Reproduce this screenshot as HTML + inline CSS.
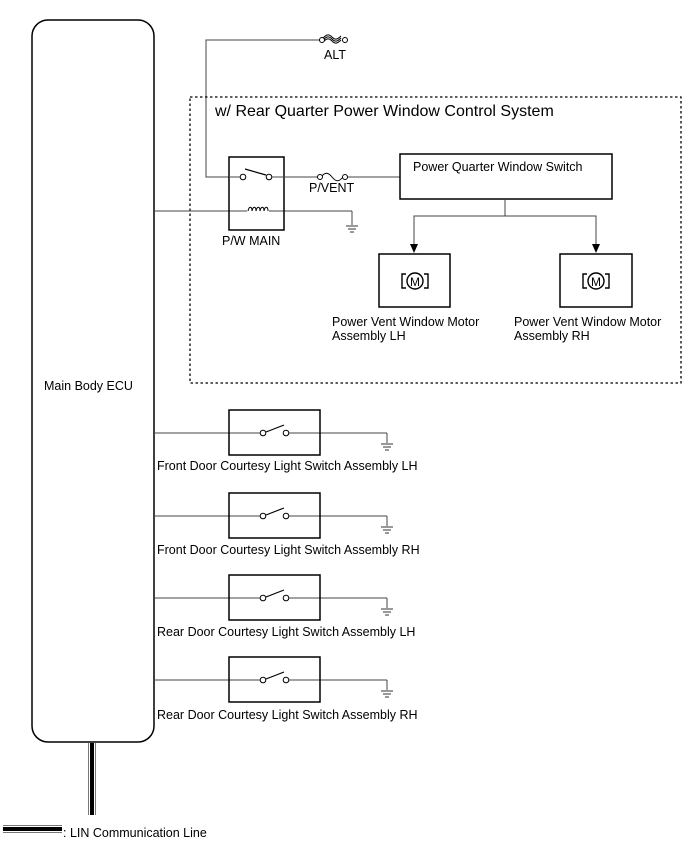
<!DOCTYPE html>
<html><head><meta charset="utf-8"><style>
html,body{margin:0;padding:0;background:#fff;}
svg{display:block;}
text{font-family:"Liberation Sans",Arial,sans-serif;font-size:12.5px;fill:#000;}
</style></head><body>
<svg width="688" height="852" viewBox="0 0 688 852" xmlns="http://www.w3.org/2000/svg">
<defs>
<g id="gnd" stroke="#333" stroke-width="1" fill="none">
<line x1="-6" y1="0" x2="6" y2="0"/><line x1="-4" y1="3" x2="4" y2="3"/><line x1="-2" y1="6" x2="2" y2="6"/>
</g>
<g id="sw">
<line x1="0" y1="0" x2="106" y2="0" stroke="#444" stroke-width="1"/>
<line x1="135" y1="0" x2="233" y2="0" stroke="#444" stroke-width="1"/>
<line x1="233" y1="0" x2="233" y2="10" stroke="#444" stroke-width="1"/>
<use href="#gnd" x="233" y="11"/>
<rect x="75" y="-23" width="91" height="45" fill="none" stroke="#000" stroke-width="1.5"/>
<line x1="112" y1="-1" x2="130" y2="-8" stroke="#000" stroke-width="1.2"/>
<circle cx="109" cy="0" r="2.8" fill="#fff" stroke="#000"/>
<circle cx="132" cy="0" r="2.8" fill="#fff" stroke="#000"/>
</g>
</defs>

<rect x="32" y="20" width="122" height="722" rx="16" ry="16" fill="#fff" stroke="#000" stroke-width="1.5"/>
<text x="44" y="390">Main Body ECU</text>

<line x1="92" y1="743" x2="92" y2="815" stroke="#777" stroke-width="8"/>
<line x1="92" y1="743" x2="92" y2="815" stroke="#fff" stroke-width="6"/>
<line x1="92" y1="743" x2="92" y2="815" stroke="#000" stroke-width="4"/>
<line x1="3" y1="829" x2="62" y2="829" stroke="#777" stroke-width="8"/>
<line x1="3" y1="829" x2="62" y2="829" stroke="#fff" stroke-width="6"/>
<line x1="3" y1="829" x2="62" y2="829" stroke="#000" stroke-width="4"/>
<text x="63" y="837">: LIN Communication Line</text>

<polyline points="229,177 206,177 206,40 320,40" fill="none" stroke="#444" stroke-width="1"/>
<path d="M323,40 c4,-4 6,-4 9,-1 c3,3 5,3 9,-1 M323,42 c4,-4 6,-4 9,-1 c3,3 5,3 9,-1 M323,38 c4,-4 6,-4 9,-1 c3,3 5,3 9,-1" fill="none" stroke="#000" stroke-width="1"/>
<circle cx="322" cy="40" r="2.5" fill="#fff" stroke="#000"/>
<circle cx="345" cy="40" r="2.5" fill="#fff" stroke="#000"/>
<text x="324" y="59">ALT</text>

<rect x="190" y="97" width="491" height="286" fill="none" stroke="#000" stroke-width="1.3" stroke-dasharray="2.5,2.5"/>
<text x="215" y="116" style="font-size:16px">w/ Rear Quarter Power Window Control System</text>

<line x1="154" y1="211" x2="352" y2="211" stroke="#444"/>
<line x1="352" y1="211" x2="352" y2="225" stroke="#444"/>
<use href="#gnd" x="352" y="226"/>
<rect x="229" y="157" width="55" height="73" fill="none" stroke="#000" stroke-width="1.5"/>
<rect x="247" y="206" width="22" height="8" fill="#fff"/>
<path d="M248,211 c1,-5 4,-5 4,0 c1,-5 4,-5 4,0 c1,-5 4,-5 4,0 c1,-5 4,-5 4,0 c1,-5 4,-5 4,0" fill="none" stroke="#000" stroke-width="1"/>
<line x1="246" y1="177" x2="229" y2="177" stroke="#444"/>
<line x1="245" y1="169" x2="266" y2="175" stroke="#000" stroke-width="1.2"/>
<line x1="272" y1="177" x2="319" y2="177" stroke="#444"/>
<circle cx="243" cy="177" r="2.8" fill="#fff" stroke="#000"/>
<circle cx="269" cy="177" r="2.8" fill="#fff" stroke="#000"/>
<text x="222" y="245">P/W MAIN</text>
<path d="M321,177 c4,-5 7,-5 11,0 c4,5 7,5 11,0" fill="none" stroke="#000"/>
<circle cx="320" cy="177" r="2.5" fill="#fff" stroke="#000"/>
<circle cx="345" cy="177" r="2.5" fill="#fff" stroke="#000"/>
<line x1="348" y1="177" x2="400" y2="177" stroke="#444"/>
<text x="309" y="192">P/VENT</text>

<rect x="400" y="154" width="212" height="45" fill="none" stroke="#000" stroke-width="1.5"/>
<text x="413" y="171">Power Quarter Window Switch</text>
<polyline points="505,199 505,216 414,216 414,245" fill="none" stroke="#444"/>
<polyline points="505,216 596,216 596,245" fill="none" stroke="#444"/>
<polygon points="410,244 418,244 414,253" fill="#000"/>
<polygon points="592,244 600,244 596,253" fill="#000"/>

<rect x="379" y="254" width="71" height="53" fill="none" stroke="#000" stroke-width="1.5"/>
<rect x="560" y="254" width="72" height="53" fill="none" stroke="#000" stroke-width="1.5"/>
<g fill="none" stroke="#000" stroke-width="1.4">
<path d="M406,274 h-4 v14 h4 M424,274 h4 v14 h-4"/><circle cx="415" cy="281" r="8"/>
<path d="M587,274 h-4 v14 h4 M605,274 h4 v14 h-4"/><circle cx="596" cy="281" r="8"/>
</g>
<text x="415" y="286" text-anchor="middle" style="font-size:12px">M</text>
<text x="596" y="286" text-anchor="middle" style="font-size:12px">M</text>
<text x="332" y="326">Power Vent Window Motor</text>
<text x="332" y="340">Assembly LH</text>
<text x="514" y="326">Power Vent Window Motor</text>
<text x="514" y="340">Assembly RH</text>

<use href="#sw" x="154" y="433"/>
<text x="157" y="470">Front Door Courtesy Light Switch Assembly LH</text>
<use href="#sw" x="154" y="516"/>
<text x="157" y="554">Front Door Courtesy Light Switch Assembly RH</text>
<use href="#sw" x="154" y="598"/>
<text x="157" y="636">Rear Door Courtesy Light Switch Assembly LH</text>
<use href="#sw" x="154" y="680"/>
<text x="157" y="719">Rear Door Courtesy Light Switch Assembly RH</text>
</svg>
</body></html>
